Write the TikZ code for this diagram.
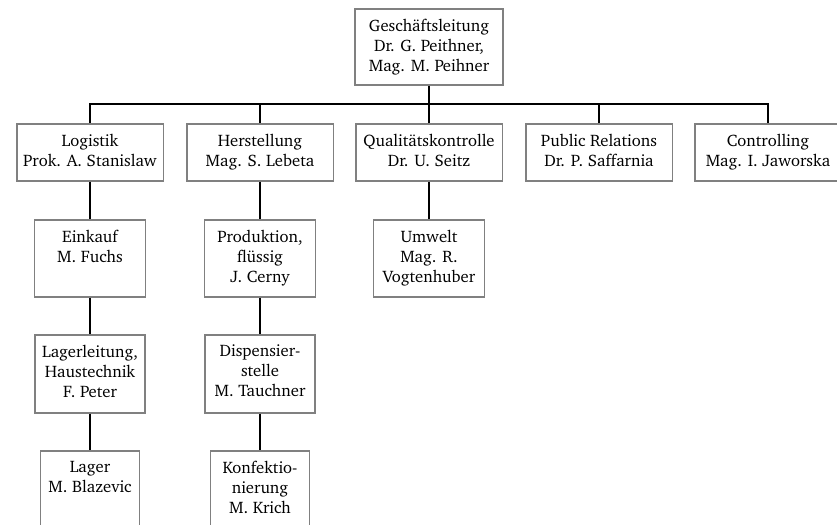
\documentclass[tikz,border=0pt]{standalone}
\usepackage[T1]{fontenc}
\usepackage{charter}
\usepackage{tikz}
\tikzstyle{orgbox} = [draw=black!50, line width=1pt, fill=white, anchor=north, inner xsep=0pt, inner ysep=6pt, font=\fontsize{10}{12}\selectfont]
\tikzstyle{link} = [line width=1pt]
\newcommand{\orgtext}[3]{\parbox[c][#2][t]{#1}{\centering #3}}

\begin{document}
\begin{tikzpicture}[x=0.6pt, y=-0.6pt]
                    \useasboundingbox (0,0) rectangle (837,524);
                    \node[orgbox, align=center, minimum width=88.8pt, minimum height=45.6pt, inner ysep=3pt] (gl) at (429,8) {Gesch\"aftsleitung\\Dr. G. Peithner,\\Mag. M. Peihner};
                    \coordinate (bus) at (429,104);
                    % erste Ebene
                    \node[orgbox] (log) at (90,123)    {\orgtext{88pt}{22.2pt}{Logistik\\Prok. A. Stanislaw}};
                    \node[orgbox] (her) at (260,123)   {\orgtext{88pt}{22.2pt}{Herstellung\\Mag. S. Lebeta}};
                    \node[orgbox] (qual) at (429,123)  {\orgtext{88pt}{22.2pt}{Qualit\"atskontrolle\\Dr. U. Seitz}};
                    \node[orgbox] (pr) at (599,123)    {\orgtext{88pt}{22.2pt}{Public Relations\\Dr. P. Saffarnia}};
                    \node[orgbox] (ctl) at (768,123)   {\orgtext{88pt}{22.2pt}{Controlling\\Mag. I. Jaworska}};
                    % zweite Ebene
                    \node[orgbox] (ein) at (90,219)    {\orgtext{66.6pt}{34.2pt}{Einkauf\\M. Fuchs}};
                    \node[orgbox] (prod) at (260,219)  {\orgtext{66.6pt}{34.2pt}{Produktion,\\fl\"ussig\\J. Cerny}};
                    \node[orgbox] (umw) at (429,219)   {\orgtext{66.6pt}{34.2pt}{Umwelt\\Mag. R.\\Vogtenhuber}};
                    % dritte Ebene
                    \node[orgbox] (lgl) at (90,334)    {\orgtext{66pt}{34.8pt}{Lagerleitung,\\Haustechnik\\F. Peter}};
                    \node[orgbox] (disp) at (260,334)  {\orgtext{66pt}{34.8pt}{Dispensier-\\stelle\\M. Tauchner}};
                    % vierte Ebene
                    \node[orgbox] (lag) at (90,450)    {\orgtext{59.4pt}{34.8pt}{Lager\\M. Blazevic}};
                    \node[orgbox] (konf) at (260,450)  {\orgtext{59.4pt}{34.8pt}{Konfektio-\\nierung\\M. Krich}};
                    % Verbindungen
                    \draw[link] (gl.south) -- (gl.south |- bus);
                    \draw[link] (log.north) -- (log.north |- bus) -- (ctl.north |- bus) -- (ctl.north);
                    \draw[link] (her.north) -- (her.north |- bus);
                    \draw[link] (qual.north) -- (qual.north |- bus);
                    \draw[link] (pr.north) -- (pr.north |- bus);
                    \draw[link] (log.south) -- (ein.north);
                    \draw[link] (ein.south) -- (lgl.north);
                    \draw[link] (lgl.south) -- (lag.north);
                    \draw[link] (her.south) -- (prod.north);
                    \draw[link] (prod.south) -- (disp.north);
                    \draw[link] (disp.south) -- (konf.north);
                    \draw[link] (qual.south) -- (umw.north);
                \end{tikzpicture}
\end{document}
